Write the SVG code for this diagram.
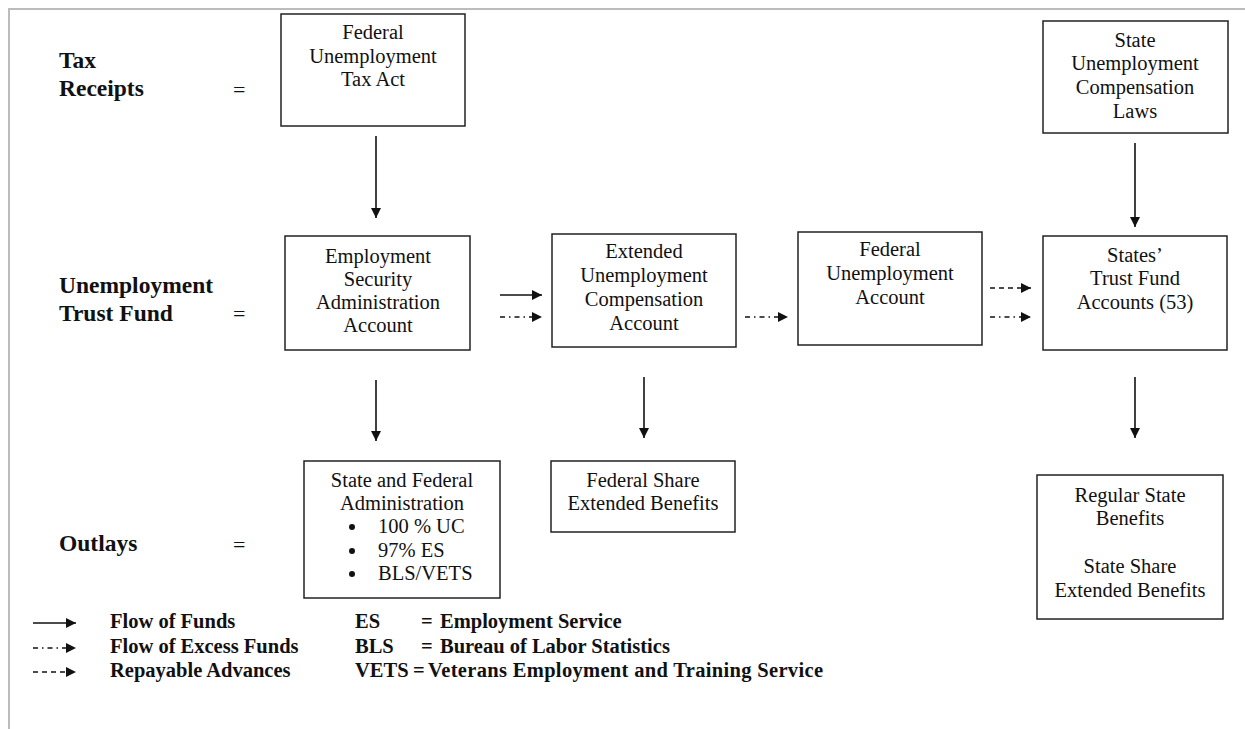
<svg xmlns="http://www.w3.org/2000/svg" width="1245" height="729" viewBox="0 0 1245 729">
  <style>
    .box { fill: #fff; stroke: #222; stroke-width: 1.5; }
    .t { font-family: "Liberation Serif", "Times New Roman", serif; font-size: 20.5px; fill: #111; text-anchor: middle; }
    .lbl { font-family: "Liberation Serif", "Times New Roman", serif; font-size: 23.5px; font-weight: bold; fill: #111; }
    .eq { font-family: "Liberation Serif", "Times New Roman", serif; font-size: 22px; fill: #111; }
    .lg { font-family: "Liberation Serif", "Times New Roman", serif; font-size: 20.5px; font-weight: bold; fill: #111; }
    .solid { stroke: #111; stroke-width: 1.6; fill: none; }
    .dashed { stroke: #111; stroke-width: 1.4; fill: none; stroke-dasharray: 5 4; }
    .dashdot { stroke: #111; stroke-width: 1.4; fill: none; stroke-dasharray: 5 4 1.5 4; }
  </style>
  <defs>
    <marker id="head" viewBox="0 0 10 10" refX="10" refY="5" markerWidth="10" markerHeight="10" markerUnits="userSpaceOnUse" orient="auto">
      <path d="M0,0 L10,5 L0,10 Z" fill="#111"/>
    </marker>
  </defs>

  <rect width="1245" height="729" fill="#fff"/>
  <!-- page frame -->
  <path d="M9,729 V9 H1245" fill="none" stroke="#bcbcbc" stroke-width="2"/>

  <!-- row labels -->
  <g id="row-labels">
    <text class="lbl" x="59" y="68">Tax</text>
    <text class="lbl" x="59" y="96">Receipts</text>
    <text class="eq" x="233" y="97">=</text>
    <text class="lbl" x="59" y="293">Unemployment</text>
    <text class="lbl" x="59" y="321">Trust Fund</text>
    <text class="eq" x="233" y="321">=</text>
    <text class="lbl" x="59" y="551">Outlays</text>
    <text class="eq" x="233" y="552">=</text>
  </g>

  <g id="futa">
    <rect class="box" x="281" y="14" width="184" height="112"/>
    <text class="t" x="373" y="39">Federal</text>
    <text class="t" x="373" y="63">Unemployment</text>
    <text class="t" x="373" y="86">Tax Act</text>
  </g>

  <g id="state-laws">
    <rect class="box" x="1043" y="21" width="185" height="112"/>
    <text class="t" x="1135" y="47">State</text>
    <text class="t" x="1135" y="70">Unemployment</text>
    <text class="t" x="1135" y="94">Compensation</text>
    <text class="t" x="1135" y="118">Laws</text>
  </g>

  <g id="esaa">
    <rect class="box" x="285" y="236" width="185" height="114"/>
    <text class="t" x="378" y="263">Employment</text>
    <text class="t" x="378" y="286">Security</text>
    <text class="t" x="378" y="309">Administration</text>
    <text class="t" x="378" y="332">Account</text>
  </g>

  <g id="euca">
    <rect class="box" x="552" y="234" width="184" height="113"/>
    <text class="t" x="644" y="258">Extended</text>
    <text class="t" x="644" y="282">Unemployment</text>
    <text class="t" x="644" y="306">Compensation</text>
    <text class="t" x="644" y="330">Account</text>
  </g>

  <g id="fua">
    <rect class="box" x="798" y="232" width="184" height="113"/>
    <text class="t" x="890" y="256">Federal</text>
    <text class="t" x="890" y="280">Unemployment</text>
    <text class="t" x="890" y="304">Account</text>
  </g>

  <g id="state-trust">
    <rect class="box" x="1043" y="236" width="184" height="114"/>
    <text class="t" x="1135" y="262">States’</text>
    <text class="t" x="1135" y="285">Trust Fund</text>
    <text class="t" x="1135" y="309">Accounts (53)</text>
  </g>

  <g id="admin">
    <rect class="box" x="304" y="461" width="196" height="137"/>
    <text class="t" x="402" y="487">State and Federal</text>
    <text class="t" x="402" y="510">Administration</text>
    <circle cx="352" cy="527" r="3" fill="#111"/>
    <text class="t" x="378" y="533" style="text-anchor:start">100 % UC</text>
    <circle cx="352" cy="551" r="3" fill="#111"/>
    <text class="t" x="378" y="557" style="text-anchor:start">97% ES</text>
    <circle cx="352" cy="574" r="3" fill="#111"/>
    <text class="t" x="378" y="580" style="text-anchor:start">BLS/VETS</text>
  </g>

  <g id="federal-share">
    <rect class="box" x="551" y="461" width="184" height="71"/>
    <text class="t" x="643" y="487">Federal Share</text>
    <text class="t" x="643" y="510">Extended Benefits</text>
  </g>

  <g id="state-benefits">
    <rect class="box" x="1037" y="475" width="186" height="144"/>
    <text class="t" x="1130" y="502">Regular State</text>
    <text class="t" x="1130" y="525">Benefits</text>
    <text class="t" x="1130" y="573">State Share</text>
    <text class="t" x="1130" y="597">Extended Benefits</text>
  </g>

  <g id="connectors">
    <line class="solid" x1="376" y1="136" x2="376" y2="218" marker-end="url(#head)"/>
    <line class="solid" x1="1135" y1="143" x2="1135" y2="227" marker-end="url(#head)"/>
    <line class="solid" x1="376" y1="380" x2="376" y2="441" marker-end="url(#head)"/>
    <line class="solid" x1="644" y1="377" x2="644" y2="438" marker-end="url(#head)"/>
    <line class="solid" x1="1135" y1="377" x2="1135" y2="438" marker-end="url(#head)"/>
    <line class="solid" x1="500" y1="295" x2="542" y2="295" marker-end="url(#head)"/>
    <line class="dashdot" x1="500" y1="317" x2="542" y2="317" marker-end="url(#head)"/>
    <line class="dashdot" x1="745" y1="317" x2="788" y2="317" marker-end="url(#head)"/>
    <line class="dashed" x1="990" y1="288" x2="1031" y2="288" marker-end="url(#head)"/>
    <line class="dashdot" x1="990" y1="317" x2="1031" y2="317" marker-end="url(#head)"/>
  </g>

  <g id="legend">
    <line class="solid" x1="33" y1="623" x2="76" y2="623" marker-end="url(#head)"/>
    <line class="dashdot" x1="33" y1="648" x2="76" y2="648" marker-end="url(#head)"/>
    <line class="dashed" x1="33" y1="672" x2="76" y2="672" marker-end="url(#head)"/>
    <text class="lg" x="110" y="628">Flow of Funds</text>
    <text class="lg" x="110" y="653">Flow of Excess Funds</text>
    <text class="lg" x="110" y="677">Repayable Advances</text>
    <text class="lg" x="355" y="628">ES</text>
    <text class="lg" x="421" y="628">=</text>
    <text class="lg" x="440" y="628">Employment Service</text>
    <text class="lg" x="355" y="653">BLS</text>
    <text class="lg" x="421" y="653">=</text>
    <text class="lg" x="440" y="653">Bureau of Labor Statistics</text>
    <text class="lg" x="355" y="677">VETS</text>
    <text class="lg" x="413" y="677">=</text>
    <text class="lg" x="428" y="677" textLength="395" lengthAdjust="spacing">Veterans Employment and Training Service</text>
  </g>
</svg>
